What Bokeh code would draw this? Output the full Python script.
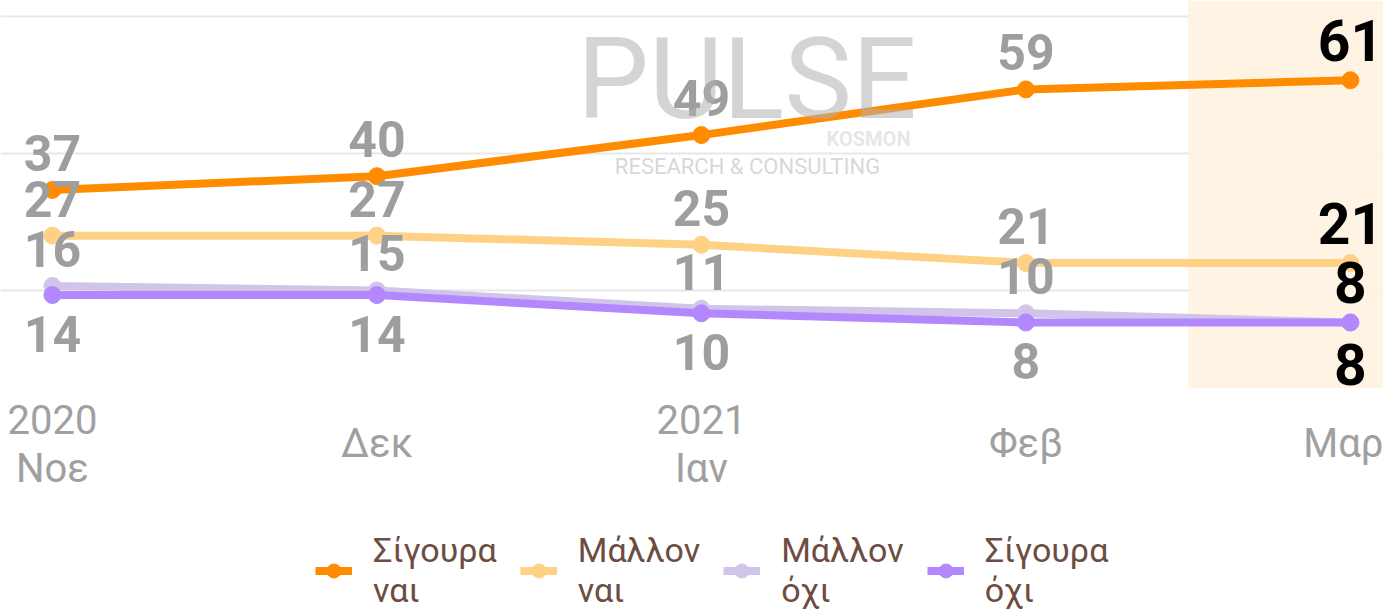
from bokeh.plotting import figure
from bokeh.layouts import column
from bokeh.models import (ColumnDataSource, FixedTicker, BoxAnnotation, Legend,
                          LegendItem, Label, LabelSet, Range1d, LinearAxis)
from bokeh.core.properties import value
from bokeh.embed import file_html
from bokeh.resources import INLINE

# ---- data ----
months = ["2020\nΝοε", "Δεκ", "2021\nΙαν", "Φεβ", "Μαρ"]
series_names = ["Σίγουρα\nναι", "Μάλλον\nναι", "Μάλλον\nόχι", "Σίγουρα\nόχι"]
sigoura_nai = [37, 40, 49, 59, 61]
mallon_nai = [27, 27, 25, 21, 21]
mallon_oxi = [16, 15, 11, 10, 8]
sigoura_oxi = [14, 14, 10, 8, 8]
grid_ticks = [15, 45, 75]
highlight_from = 3.5  # highlighted latest month

series_values = [sigoura_nai, mallon_nai, mallon_oxi, sigoura_oxi]
colors = ["#FF8C00", "#FFD185", "#D1C4E9", "#B388FF"]
label_above = [True, True, True, False]

FONT = "Roboto"
x = list(range(len(months)))
two_line = [i for i, m in enumerate(months) if "\n" in m]
one_line = [i for i, m in enumerate(months) if "\n" not in m]

p = figure(width=1383, height=498,
           x_range=Range1d(-0.160, 4.102), y_range=Range1d(-6.45, 78.45),
           output_backend="svg", toolbar_location=None,
           min_border_left=0, min_border_right=0, min_border_top=0, min_border_bottom=110)
p.outline_line_color = None
p.background_fill_color = "white"
p.border_fill_color = "white"
p.xgrid.visible = False
p.yaxis.visible = False
p.ygrid.ticker = FixedTicker(ticks=grid_ticks)
p.ygrid.grid_line_color = "#E8E8E8"
p.ygrid.grid_line_width = 2

band = BoxAnnotation(left=highlight_from, fill_color="#FFF3E0", fill_alpha=0.88,
                     line_color=None, level="underlay")
p.add_layout(band)


def style_axis(ax, ticks, standoff):
    ax.ticker = FixedTicker(ticks=ticks)
    ax.major_label_overrides = {i: months[i] for i in ticks}
    ax.axis_line_color = None
    ax.major_tick_line_color = None
    ax.minor_tick_line_color = None
    ax.major_label_text_color = "#A0A0A0"
    ax.major_label_text_font = FONT
    ax.major_label_text_font_size = "40px"
    ax.major_label_text_line_height = 1.03
    ax.major_label_standoff = standoff


style_axis(p.xaxis[0], two_line, 2)
ax2 = LinearAxis()
p.add_layout(ax2, "below")
style_axis(ax2, one_line, -81)

sources = []
for vals, col in zip(series_values, colors):
    src = ColumnDataSource(dict(x=x, y=vals))
    sources.append(src)
    p.line("x", "y", source=src, line_color=col, line_width=8)
    p.scatter("x", "y", source=src, size=17, fill_color=col, line_color=col)

# data labels
for vals, above in zip(series_values, label_above):
    t = [str(v) for v in vals]
    src_g = ColumnDataSource(dict(x=x[:-1], y=vals[:-1], t=t[:-1]))
    src_b = ColumnDataSource(dict(x=x[-1:], y=vals[-1:], t=t[-1:]))
    p.add_layout(LabelSet(x="x", y="y", text="t", source=src_g, text_color="#9E9E9E",
                          text_font_size="50px", text_font=value(FONT),
                          text_font_style="bold", text_align="center",
                          text_baseline="middle", y_offset=(37 if above else -38.5)))
    p.add_layout(LabelSet(x="x", y="y", text="t", source=src_b, text_color="#000000",
                          text_font_size="57px", text_font=value(FONT),
                          text_font_style="bold", text_align="center",
                          text_baseline="middle", y_offset=(40 if above else -42)))

# watermark
wm = [("PULSE", 2.14, 61.3, "114px", "normal", "#B0B0B0", 0.55),
      ("KOSMON", 2.515, 48.2, "20px", "bold", "#C8C8C8", 0.45),
      ("RESEARCH & CONSULTING", 2.142, 42.1, "22px", "normal", "#B0B0B0", 0.5)]
for tt, wx, wy, fs, st, c, a in wm:
    p.add_layout(Label(x=wx, y=wy, text=tt, text_font=FONT, text_font_size=fs,
                       text_font_style=st, text_color=c, text_alpha=a,
                       text_align="center", text_baseline="middle"))

# legend figure (below the chart); its renderers use the same data but lie
# outside this figure's visible range, so only the legend shows
q = figure(width=1383, height=112, x_range=Range1d(0, 1), y_range=Range1d(1000, 1001),
           output_backend="svg", toolbar_location=None,
           x_axis_location=None, y_axis_location=None,
           min_border_left=0, min_border_right=0, min_border_top=0, min_border_bottom=0)
q.outline_line_color = None
q.grid.visible = False
items = []
for name, col, src in zip(series_names, colors, sources):
    r1 = q.line("x", "y", source=src, line_color=col, line_width=8)
    r2 = q.scatter("x", "y", source=src, size=17, fill_color=col, line_color=col)
    items.append(LegendItem(label=name, renderers=[r1, r2]))

legend = Legend(items=items, orientation="horizontal", location=(315, 0),
                label_text_color="#6D4C41", label_text_font=FONT,
                label_text_font_size="34px", label_text_line_height=1.15,
                glyph_width=37, glyph_height=35,
                label_standoff=21, spacing=23, border_line_color=None,
                background_fill_alpha=0, padding=0, margin=0)
q.add_layout(legend, "center")

layout = column(p, q, spacing=0)
open("out.html", "w").write(file_html(layout, INLINE))
